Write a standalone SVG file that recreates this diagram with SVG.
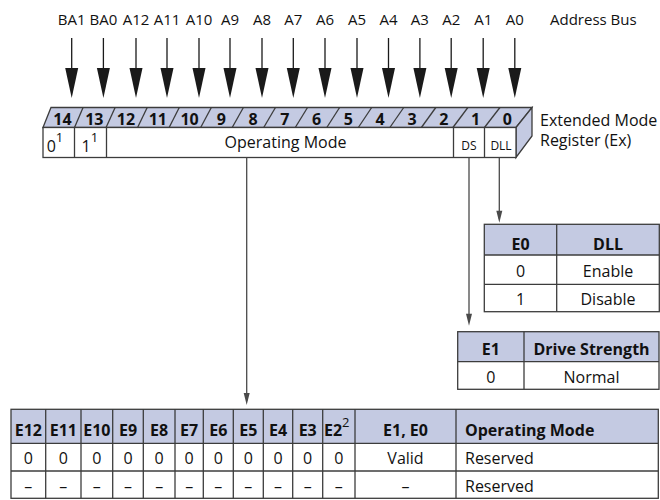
<svg xmlns="http://www.w3.org/2000/svg" width="660" height="500" viewBox="0 0 660 500">
<defs>
<style>
.t{font-family:"Open Sans","Noto Sans","Liberation Sans",sans-serif;fill:#111;font-size:16px}
.c{text-anchor:middle}
.b{font-weight:bold}
.addr{font-size:15px}
.num{font-size:16px;font-weight:bold;text-anchor:middle}
.sm{font-size:12px}
.sup{font-size:13px}
.hdr{fill:#c4cae2}
.grid{stroke:#3c3c3c;stroke-width:1.3;fill:none}
.bus{stroke:#1a1a1a;stroke-width:1.3;fill:none}
.conn{stroke:#4a4a4a;stroke-width:1.3;fill:none}
</style>
<marker id="bigArrow" markerUnits="userSpaceOnUse" markerWidth="31" markerHeight="14" refX="24" refY="6.5" orient="auto" overflow="visible"><path d="M0,0 L30,6.5 L0,13 Z" fill="#1a1a1a"/></marker>
<marker id="smallArrow" markerUnits="userSpaceOnUse" markerWidth="13" markerHeight="6" refX="8" refY="3" orient="auto" overflow="visible"><path d="M0,0 L12,3 L0,6 Z" fill="#4a4a4a"/></marker>
</defs>
<rect width="660" height="500" fill="#fff"/>

<g id="address-bus" class="t addr c">
<text x="71.7" y="25">BA1</text>
<text x="103.4" y="25">BA0</text>
<text x="136" y="25">A12</text>
<text x="167" y="25">A11</text>
<text x="199" y="25">A10</text>
<text x="230" y="25">A9</text>
<text x="262" y="25">A8</text>
<text x="293.3" y="25">A7</text>
<text x="325" y="25">A6</text>
<text x="357" y="25">A5</text>
<text x="388.5" y="25">A4</text>
<text x="419.9" y="25">A3</text>
<text x="451.2" y="25">A2</text>
<text x="483.2" y="25">A1</text>
<text x="514.8" y="25">A0</text>
<text x="550" y="25" style="text-anchor:start">Address Bus</text>
</g>

<g id="register">
<polygon class="grid" points="43,127.5 51,107.5 532,107.5 516,127.5" style="fill:#c4cae2"/>
<polygon class="grid" points="516,127.5 532,107.5 532,136 516,157.5" style="fill:#c4cae2"/>
<rect class="grid" x="43" y="127.5" width="473" height="30" style="fill:#fff"/>
<g class="grid">
<line x1="74.53" y1="127.5" x2="83.07" y2="107.5"/>
<line x1="106.07" y1="127.5" x2="115.13" y2="107.5"/>
<line x1="137.6" y1="127.5" x2="147.2" y2="107.5"/>
<line x1="169.13" y1="127.5" x2="179.27" y2="107.5"/>
<line x1="200.67" y1="127.5" x2="211.33" y2="107.5"/>
<line x1="232.2" y1="127.5" x2="243.4" y2="107.5"/>
<line x1="263.73" y1="127.5" x2="275.47" y2="107.5"/>
<line x1="295.27" y1="127.5" x2="307.53" y2="107.5"/>
<line x1="326.8" y1="127.5" x2="339.6" y2="107.5"/>
<line x1="358.33" y1="127.5" x2="371.67" y2="107.5"/>
<line x1="389.87" y1="127.5" x2="403.73" y2="107.5"/>
<line x1="421.4" y1="127.5" x2="435.8" y2="107.5"/>
<line x1="452.93" y1="127.5" x2="467.87" y2="107.5"/>
<line x1="484.47" y1="127.5" x2="499.93" y2="107.5"/>
<line x1="74.5" y1="127.5" x2="74.5" y2="157.5"/>
<line x1="106.5" y1="127.5" x2="106.5" y2="157.5"/>
<line x1="453.5" y1="127.5" x2="453.5" y2="157.5"/>
<line x1="484.5" y1="127.5" x2="484.5" y2="157.5"/>
</g>
<g class="t num">
<text x="62.5" y="124.5">14</text>
<text x="94.3" y="124.5">13</text>
<text x="126" y="124.5">12</text>
<text x="157.8" y="124.5">11</text>
<text x="189.6" y="124.5">10</text>
<text x="221.4" y="124.5">9</text>
<text x="253.1" y="124.5">8</text>
<text x="284.9" y="124.5">7</text>
<text x="316.7" y="124.5">6</text>
<text x="348.4" y="124.5">5</text>
<text x="380.2" y="124.5">4</text>
<text x="412" y="124.5">3</text>
<text x="443.8" y="124.5">2</text>
<text x="475.5" y="124.5">1</text>
<text x="507.3" y="124.5">0</text>
</g>
<text class="t" x="46.7" y="152">0<tspan class="sup" dy="-10">1</tspan></text>
<text class="t" x="81.5" y="152">1<tspan class="sup" dy="-10">1</tspan></text>
<text class="t c" x="285.5" y="148.3">Operating Mode</text>
<text class="t c sm" x="469" y="150">DS</text>
<text class="t c sm" x="501" y="150">DLL</text>
<text class="t" x="540" y="126">Extended Mode</text>
<text class="t" x="540" y="146">Register (Ex)</text>
</g>

<g id="dll-table">
<rect class="hdr" x="484.3" y="224.3" width="175" height="30.7"/>
<rect class="grid" x="484.3" y="224.3" width="175" height="87.4"/>
<line class="grid" x1="556.7" y1="224.3" x2="556.7" y2="311.7"/>
<line class="grid" x1="484.3" y1="255" x2="659.3" y2="255"/>
<line class="grid" x1="484.3" y1="284.3" x2="659.3" y2="284.3"/>
<text class="t c b" x="520.5" y="250">E0</text>
<text class="t c b" x="608" y="250">DLL</text>
<text class="t c" x="520.5" y="277.3">0</text>
<text class="t c" x="608" y="277.3">Enable</text>
<text class="t c" x="520.5" y="305">1</text>
<text class="t c" x="608" y="305">Disable</text>
</g>

<g id="drive-strength-table">
<rect class="hdr" x="457.7" y="331.7" width="201.3" height="30"/>
<rect class="grid" x="457.7" y="331.7" width="201.3" height="57.6"/>
<line class="grid" x1="524" y1="331.7" x2="524" y2="389.3"/>
<line class="grid" x1="457.7" y1="361.7" x2="659" y2="361.7"/>
<text class="t c b" x="490.8" y="355">E1</text>
<text class="t c b" x="591.5" y="355">Drive Strength</text>
<text class="t c" x="490.8" y="382.7">0</text>
<text class="t c" x="591.5" y="382.7">Normal</text>
</g>

<g id="operating-mode-table">
<rect class="hdr" x="11" y="409.3" width="647.3" height="34"/>
<rect class="grid" x="11" y="409.3" width="647.3" height="89"/>
<g class="grid">
<line x1="11" y1="443.3" x2="658.3" y2="443.3"/>
<line x1="11" y1="471" x2="658.3" y2="471"/>
<line x1="45.7" y1="409.3" x2="45.7" y2="498.3"/>
<line x1="81" y1="409.3" x2="81" y2="498.3"/>
<line x1="112.7" y1="409.3" x2="112.7" y2="498.3"/>
<line x1="143.3" y1="409.3" x2="143.3" y2="498.3"/>
<line x1="175" y1="409.3" x2="175" y2="498.3"/>
<line x1="203.3" y1="409.3" x2="203.3" y2="498.3"/>
<line x1="233.3" y1="409.3" x2="233.3" y2="498.3"/>
<line x1="263.3" y1="409.3" x2="263.3" y2="498.3"/>
<line x1="292.7" y1="409.3" x2="292.7" y2="498.3"/>
<line x1="322.7" y1="409.3" x2="322.7" y2="498.3"/>
<line x1="355" y1="409.3" x2="355" y2="498.3"/>
<line x1="456" y1="409.3" x2="456" y2="498.3"/>
</g>
<g class="t b c">
<text x="28.35" y="436">E12</text>
<text x="63.35" y="436">E11</text>
<text x="96.85" y="436">E10</text>
<text x="128" y="436">E9</text>
<text x="159.15" y="436">E8</text>
<text x="189.15" y="436">E7</text>
<text x="218.3" y="436">E6</text>
<text x="248.3" y="436">E5</text>
<text x="278" y="436">E4</text>
<text x="307.7" y="436">E3</text>
<text x="405.5" y="436">E1, E0</text>
</g>
<text class="t b" x="324" y="436">E2<tspan class="sup" style="font-weight:normal" dy="-9">2</tspan></text>
<text class="t b" x="465" y="436">Operating Mode</text>
<g class="t c">
<text x="28.35" y="464">0</text>
<text x="63.35" y="464">0</text>
<text x="96.85" y="464">0</text>
<text x="128" y="464">0</text>
<text x="159.15" y="464">0</text>
<text x="189.15" y="464">0</text>
<text x="218.3" y="464">0</text>
<text x="248.3" y="464">0</text>
<text x="278" y="464">0</text>
<text x="307.7" y="464">0</text>
<text x="338.85" y="464">0</text>
<text x="405.5" y="464">Valid</text>
<text x="28.35" y="492">–</text>
<text x="63.35" y="492">–</text>
<text x="96.85" y="492">–</text>
<text x="128" y="492">–</text>
<text x="159.15" y="492">–</text>
<text x="189.15" y="492">–</text>
<text x="218.3" y="492">–</text>
<text x="248.3" y="492">–</text>
<text x="278" y="492">–</text>
<text x="307.7" y="492">–</text>
<text x="338.85" y="492">–</text>
<text x="405.5" y="492">–</text>
</g>
<text class="t" x="465" y="464">Reserved</text>
<text class="t" x="465" y="492">Reserved</text>
</g>

<g id="connectors">
<g class="bus" marker-end="url(#bigArrow)">
<line x1="71.7" y1="38" x2="71.7" y2="92"/>
<line x1="103.4" y1="38" x2="103.4" y2="92"/>
<line x1="136" y1="38" x2="136" y2="92"/>
<line x1="167" y1="38" x2="167" y2="92"/>
<line x1="199" y1="38" x2="199" y2="92"/>
<line x1="230" y1="38" x2="230" y2="92"/>
<line x1="262" y1="38" x2="262" y2="92"/>
<line x1="293.3" y1="38" x2="293.3" y2="92"/>
<line x1="325" y1="38" x2="325" y2="92"/>
<line x1="357" y1="38" x2="357" y2="92"/>
<line x1="388.5" y1="38" x2="388.5" y2="92"/>
<line x1="419.9" y1="38" x2="419.9" y2="92"/>
<line x1="451.2" y1="38" x2="451.2" y2="92"/>
<line x1="483.2" y1="38" x2="483.2" y2="92"/>
<line x1="514.8" y1="38" x2="514.8" y2="92"/>
</g>
<g class="conn" marker-end="url(#smallArrow)">
<line x1="246.7" y1="157.5" x2="246.7" y2="401"/>
<line x1="469" y1="157.5" x2="469" y2="321.7"/>
<line x1="499.3" y1="157.5" x2="499.3" y2="218.7"/>
</g>
</g>
</svg>
